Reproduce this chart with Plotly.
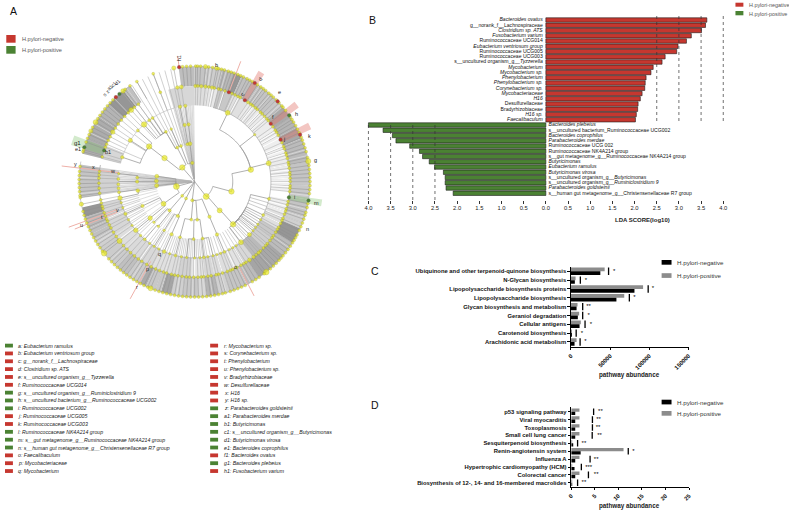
import math
import plotly.graph_objects as go

W, H = 789, 511
RED, GREEN = "#c6372f", "#4b8233"
YEL = "#eaea1e"
FONT = "Liberation Sans"

# ---------- Panel B data ----------
lda_neg_names = ["<i>Bacteroides ovatus</i>", "g__norank_f__Lachnospiraceae", "<i>Clostridium sp. ATS</i>",
                 "<i>Fusobacterium varium</i>", "Ruminococcaceae UCG014", "<i>Eubacterium ventriosum group</i>",
                 "Ruminococcaceae UCG005", "Ruminococcaceae UCG003", "s__uncultured organism_g__<i>Tyzzerella</i>",
                 "<i>Mycobacterium</i>", "<i>Mycobacterium sp.</i>", "<i>Phenylobacterium</i>",
                 "<i>Phenylobacterium sp.</i>", "<i>Corynebacterium sp.</i>", "<i>Mycobacteriaceae</i>", "<i>H16</i>",
                 "Desulfurellaceae", "Bradyrhizobiaceae", "<i>H16 sp.</i>", "<i>Faecalibaculum</i>"]
lda_neg_vals = [3.63, 3.60, 3.51, 3.28, 3.17, 2.98, 2.95, 2.69, 2.62, 2.42, 2.37, 2.26, 2.24, 2.23, 2.17, 2.13,
                2.08, 2.07, 2.04, 2.02]
lda_pos_names = ["<i>Bacteroides plebeius</i>", "s__uncultured bacterium_Ruminococcaceae UCG002",
                 "<i>Bacteroides coprophilus</i>", "<i>Parabacteroides merdae</i>", "Ruminococcaceae UCG 002",
                 "Ruminococcaceae NK4A214 group", "s__gut metagenome_g__Ruminococcaceae NK4A214 group",
                 "<i>Butyricimonas</i>", "<i>Eubacterium ramulus</i>", "<i>Butyricimonas virosa</i>",
                 "s__uncultured organism_g__<i>Butyricimonas</i>", "s__uncultured organism_g__<i>Ruminiclostridium 9</i>",
                 "<i>Parabacteroides goldsteinii</i>", "s__human gut metagenome_g__Christensenellaceae R7 group"]
lda_pos_vals = [4.0, 3.67, 3.46, 3.38, 3.07, 2.85, 2.78, 2.63, 2.51, 2.31, 2.27, 2.27, 2.25, 2.09]
lda_ticks = [-4, -3.5, -3, -2.5, -2, -1.5, -1, -.5, 0, .5, 1, 1.5, 2, 2.5, 3, 3.5, 4]
lda_ticktext = ["4.0", "3.5", "3.0", "2.5", "2.0", "1.5", "1.0", "0.5", "0.0", "0.5", "1.0", "1.5", "2.0", "2.5",
                "3.0", "3.5", "4.0"]
lda_grid_right = [2.5, 3.0, 3.5, 4.0]
lda_grid_left = [-2.5, -3.0, -3.5, -4.0]

# ---------- Panel C data ----------
c_names = ["Ubiquinone and other terpenoid-quinone biosynthesis", "N-Glycan biosynthesis",
           "Lipopolysaccharide biosynthesis proteins", "Lipopolysaccharide biosynthesis",
           "Glycan biosynthesis and metabolism", "Geraniol degradation", "Cellular antigens",
           "Carotenoid biosynthesis", "Arachidonic acid metabolism"]
c_pos = [43000, 5900, 92000, 68000, 8400, 10500, 12600, 400, 7200]
c_neg = [37500, 5000, 81000, 58000, 7200, 8800, 11000, 300, 4600]
c_sig = [48000, 12000, 98500, 74500, 15000, 15000, 18000, 6700, 11700]
c_star_x = [55000, 19000, 104500, 81000, 22500, 22500, 25500, 14000, 18500]
c_star = ["*", "*", "*", "*", "**", "*", "*", "*", "*"]
c_ticks = [0, 50000, 100000, 150000]

# ---------- Panel D data ----------
d_names = ["p53 signaling pathway", "Viral myocarditis", "Toxoplasmosis", "Small cell lung cancer",
           "Sesquiterpenoid biosynthesis", "Renin-angiotensin system", "Influenza A",
           "Hypertrophic cardiomyopathy (HCM)", "Colorectal cancer",
           "Biosynthesis of 12-, 14- and 16-membered macrolides"]
d_pos = [1.75, 1.75, 1.75, 1.75, 0.1, 11.1, 1.75, 0.05, 1.75, 0.1]
d_neg = [0.85, 0.85, 0.85, 0.85, 0.3, 2.0, 0.85, 0.7, 0.85, 0.1]
d_sig = [4.75, 4.5, 4.5, 4.45, 1.35, 12.1, 4.0, 2.15, 3.65, 1.35]
d_star_x = [6.2, 5.8, 5.7, 6.0, 2.7, 13.2, 5.3, 3.7, 5.3, 2.7]
d_star = ["**", "**", "**", "**", "**", "*", "**", "***", "**", "**"]
d_ticks = [0, 5, 10, 15, 20, 25]

# ---------- Panel A legend ----------
leg_left = ["a: Eubacterium ramulus", "b: Eubacterium ventriosum group", "c: g__norank_f__Lachnospiraceae",
            "d: Clostridium sp. ATS", "e: s__uncultured organism_g__Tyzzerella", "f: Ruminococcaceae UCG014",
            "g: s__uncultured organism_g__Ruminiclostridium 9", "h: s__uncultured bacterium_g__Ruminococcaceae UCG002",
            "i: Ruminococcaceae UCG002", "j: Ruminococcaceae UCG005", "k: Ruminococcaceae UCG003",
            "l: Ruminococcaceae NK4A214 group", "m: s__gut metagenome_g__Ruminococcaceae NK4A214 group",
            "n: s__human gut metagenome_g__Christensenellaceae R7 group", "o: Faecalibaculum", "p: Mycobacteriaceae",
            "q: Mycobacterium"]
leg_left_col = "GRRRRRGGGRRGGGRRR"
leg_right = ["r: Mycobacterium sp.", "s: Corynebacterium sp.", "t: Phenylobacterium", "u: Phenylobacterium sp.",
             "v: Bradyrhizobiaceae", "w: Desulfurellaceae", "x: H16", "y: H16 sp.", "z: Parabacteroides goldsteinii",
             "a1: Parabacteroides merdae", "b1: Butyricimonas", "c1: s__uncultured organism_g__Butyricimonas",
             "d1: Butyricimonas virosa", "e1: Bacteroides coprophilus", "f1: Bacteroides ovatus",
             "g1: Bacteroides plebeius", "h1: Fusobacterium varium"]
leg_right_col = "RRRRRRRRGGGGGGRGR"

# ---------- Panel A cladogram data (angles clockwise from north, degrees) ----------
R_RINGS = [19, 38.5, 58, 77, 96.5, 116.5]

outer_band_start = [0, 6, 14, 20, 24, 34, 45, 50, 56, 62, 68, 80, 90, 99, 108, 114, 122, 130, 138, 146, 153, 162, 168,
                    174, 178, 186, 192, 197, 205, 208, 216, 222, 235, 240, 246, 252, 262, 284, 292, 304, 312, 322, 352]
outer_band_end = [6, 14, 20, 24, 34, 45, 50, 56, 62, 68, 80, 90, 99, 108, 114, 122, 130, 138, 146, 153, 162, 168, 174,
                  178, 186, 192, 197, 205, 208, 216, 222, 235, 240, 246, 252, 257, 278.5, 292, 304, 312, 322, 326, 360]
outer_band_gray = [196, 205, 184, 152, 192, 196, 200, 170, 181, 168, 187, 196, 200, 196, 208, 150, 187, 168, 165, 187,
                   197, 208, 181, 216, 200, 208, 165, 200, 170, 204, 192, 204, 208, 192, 187, 150, 196, 176, 172, 180,
                   150, 192, 190]

mid_band_start = [0, 8, 14, 24, 34, 44, 56, 66, 76, 86, 101, 110, 120, 126, 134, 142, 150, 158, 168, 174, 182, 190,
                  198, 206, 216, 226, 236, 248, 262, 284, 344]
mid_band_end = [8, 14, 24, 34, 44, 56, 66, 76, 86, 96, 110, 120, 126, 134, 142, 150, 158, 168, 174, 182, 190, 198, 206,
                216, 226, 236, 248, 257, 278.5, 292, 360]
mid_band_gray = [222, 232, 200, 224, 234, 236, 238, 240, 236, 240, 238, 224, 200, 206, 186, 216, 226, 222, 215, 230,
                 210, 222, 224, 216, 218, 222, 215, 215, 210, 215, 215]

outer_white = [8, 16, 36, 41, 48, 74, 77, 92, 97, 104, 111, 125, 151, 164, 171, 181, 189, 200, 213, 227, 238, 243, 264,
               272, 295, 300, 316, 324]
mid_white = [11, 18, 27.5, 38, 43, 47.5, 58, 60.5, 63, 68, 70.5, 73, 80, 83, 85.5, 88, 90.5, 93, 105, 108, 112, 116,
             149, 155, 163, 180, 215, 232.5, 247]

# fine fans of lines inside the tree
center_fan_left = [262.3, 263.2, 264.1, 265.3, 266, 267.1, 268.4, 269, 270.2, 271.3, 272, 273.1, 274.2, 275.4, 276.1,
                   277.2, 278.2]
center_fan_top = [344.2, 345.5, 346.4, 347.6, 348.9, 350, 351.2, 352.3, 353.4, 354.1, 355.2, 356.3, 357.1, 358.2, 359.3]
fan58_angles = [143, 145.5, 148, 151, 154, 158.5, 161, 164, 168, 170.5, 172, 174, 175.5, 177, 178.5, 180, 181.5, 183,
                184.5, 186, 187.5, 189, 190.5, 192, 193.5, 196, 197.5, 199.5, 201.5, 205, 207, 209.5, 211, 213.5, 215.5,
                217.5, 223, 226.5, 228.5, 232, 234, 236.5, 238, 240.5, 242, 244, 246.5, 248, 250.5, 252, 254, 256]
fan38_angles = [208, 211, 214, 217, 224, 227, 233, 238, 242, 248, 252, 256, 259]
sparse_angles = [321, 324, 327, 330, 333, 336, 339, 342, 345, 348, 284, 287, 293, 302, 308, 317]
sparse_in = [58, 58, 58, 38, 38, 38, 38, 38, 38, 38, 77, 77, 58, 58, 58, 58]
sparse_out = [116, 116, 116, 116, 116, 116, 116, 116, 116, 116, 96, 96, 77, 77, 77, 77]
lower_sparse_angles = [106, 109, 112, 118, 122, 126, 128.5, 131.5, 136, 137.5, 140]
lower_sparse_in = [58] * 11
lower_sparse_out = [77] * 11

# tree: child angle -> parent angle, one ring further in
ring1_child = [142, 187, 207, 221, 255, 319, 353]
ring2_child = [105, 139, 157, 176, 185, 206, 221, 234.5, 264, 271, 278, 308, 333, 339, 353]
ring2_parent = [142, 142, 187, 187, 187, 207, 221, 255, 255, 255, 255, 319, 319, 353, 353]
ring3_child = [78, 138, 157, 172, 181, 194.7, 203.6, 212, 219, 225, 230.6, 245, 261, 270, 274, 307.7, 330, 336, 350, 354]
ring3_parent = [105, 139, 157, 176, 176, 185, 206, 206, 221, 221, 234.5, 234.5, 264, 271, 271, 308, 333, 339, 353, 353]
ring4_child = [25.7, 52, 76, 103, 116, 120, 124, 127, 130, 134, 142.6, 157, 166, 173, 180, 186, 194.5, 203.5, 212, 220.8,
               230.4, 245, 257.6, 262, 270, 276, 302.7, 288.6, 312, 318.5, 323.6, 326.6, 349, 353]
ring4_parent = [78, 78, 78, 138, 138, 138, 138, 138, 138, 138, 138, 157, 172, 172, 181, 181, 194.7, 203.6, 212, 219,
                230.6, 245, 261, 261, 270, 274, 307.7, 307.7, 307.7, 330, 330, 330, 350, 354]

ring1_nodes = [142, 187, 207, 221, 255, 319, 353]
ring1_sizes = [6, 3.2, 3, 3, 6, 5.5, 3.4]
ring2_nodes = [105, 139, 157, 176, 185, 206, 221, 234.5, 264, 271, 278, 308, 333, 339, 353, 349]
ring2_sizes = [5.5, 5, 3.4, 3, 3, 3.4, 3.4, 5, 4.2, 4, 4, 5.5, 3, 3, 4, 3]
ring3_nodes = [78, 138, 157, 172, 181, 194.7, 203.6, 212, 219, 225, 230.6, 245, 261, 270, 274, 307.7, 330, 336, 350, 354]
ring3_sizes = [5.5, 5.5, 3.4, 3, 3, 3, 3.4, 2.6, 2.6, 2.6, 4.6, 3.4, 3.8, 3.4, 3, 5.5, 3, 2.6, 3.4, 3.4]
ring4_nodes = [25.7, 52, 76, 103, 116, 120, 124, 127, 130, 134, 142.6, 147, 150, 153, 157, 160, 163, 166, 170, 173, 176,
               180, 186, 190, 194.5, 199, 203.5, 208, 212, 216, 220.8, 225, 230.4, 235, 240, 245, 250, 254, 257.6, 262,
               265, 268, 272, 276, 288.6, 302.7, 312, 318.5, 323.6, 326.6, 349, 353]
ring4_sizes = [5, 2.4, 5, 3, 3, 2.4, 2.4, 2.4, 2.4, 4.2, 5, 2.4, 2.4, 2.4, 3, 2.4, 2.4, 2.4, 2.4, 3, 2.4, 2.4, 2.4, 2.4, 3,
               2.4, 3.8, 2.4, 2.4, 2.4, 3, 2.4, 4.6, 2.4, 2.4, 3.4, 2.4, 2.4, 4.6, 3, 3, 3, 3, 2.4, 3.4, 4.2, 3, 5.5,
               3, 3, 3.4, 3.4]
ring5_nodes = [0.5, 2, 4, 6.5, 8.5, 10.5, 12, 14.5, 16, 18.5, 23, 25, 27, 28.5, 34, 36, 37.5, 39.5, 41, 43.5, 45, 47, 49,
               50.5, 55, 57.5, 59, 61, 66, 68.5, 70, 72.5, 74, 76, 78.5, 80, 82, 84.5, 86, 88, 90, 92.5, 94, 96, 102,
               104, 106.5, 108, 110, 112.5, 114, 116, 118.5, 120, 122, 124.5, 126, 128, 130.5, 132, 134, 136.5, 138,
               140, 142, 145, 147.5, 149, 151, 154, 156.5, 158, 160, 163, 165.5, 167, 170, 172, 174.5, 176, 178, 180.5,
               183, 185, 187.5, 190, 192, 194, 197, 199, 201.5, 204, 207, 210, 213.5, 216, 219, 222, 225, 228, 231.7,
               235, 238, 241, 243, 245.5, 247, 249, 251, 253.5, 255, 257, 259, 263, 266, 269, 272, 274, 276, 285, 291,
               293, 295.5, 298, 301.2, 304, 307, 310, 313, 316, 318.5, 321, 324, 339, 349.6, 352]
big_ring5 = {0.5: 3.4, 4: 3.6, 6.5: 3.6, 10.5: 3.6, 34: 3.2, 138: 3.4, 142: 3.6, 145: 4, 154: 3.4, 231.7: 5.2, 301.2: 4.6,
             318.5: 5, 349.6: 3.6, 352: 4}
ring5_sizes = [big_ring5.get(a, 2.9) for a in ring5_nodes]
ring6_nodes = [0.5, 1.5, 3, 5.4, 7, 9, 11, 12, 13.5, 15, 17, 18.5, 20, 22, 23.5, 25, 27, 28.5, 30, 33, 35, 36.5, 38, 40,
               41.5, 43, 45, 47, 49, 50, 52, 56, 57.5, 59, 61, 63, 65, 67.5, 69, 71, 73, 75, 78, 79.8, 82, 84, 86, 88,
               90, 92, 94, 96, 101, 103, 105.5, 107, 109, 111, 113, 115, 117.5, 119, 120.5, 122, 124, 126, 128, 130,
               131.5, 133, 135, 137, 139, 141.6, 143, 146, 148, 150, 154, 156, 158, 160, 162, 164.5, 166, 168, 170, 172,
               174, 176, 178, 180, 182, 184, 186, 188, 190, 192, 194, 196, 198, 200, 202.4, 204, 206, 208, 210, 212,
               214, 216, 218, 220, 222, 224, 226, 228, 231.6, 233, 235, 237, 239, 241, 243, 245, 247, 249, 251, 253, 255,
               258.7, 262, 263, 265, 267, 269, 271, 273, 275, 277.5, 285, 286, 290, 292, 294, 296, 298, 301, 303, 305,
               307, 309, 311, 313, 315, 321.7, 323, 326, 330, 339, 349.6, 354, 356, 358]
big_ring6 = {5.4: 4.2, 11: 4.2, 79.8: 5.2, 141.6: 5.6, 231.6: 5.6, 202.4: 5, 296: 4.2, 301: 5, 321.7: 4.6, 349.6: 4.2,
             258.7: 4.2}
ring6_sizes = [big_ring6.get(a, 2.9) for a in ring6_nodes]

red_ring_angles = [21, 31.7, 52.8, 64]           # r = 96.5
red_outer_angles = [31.4, 46, 66, 317, 352.3]    # r = 116.5
green_ring_angles = [99.5, 289]
green_outer_angles = [55, 99.4, 287.3, 319.4]

pink_start = [30, 51.4, 62.6]
pink_end = [33, 54.6, 65.8]
thin_pink_angle = [21, 152.5, 208.8, 250.1, 248.4, 276.7, 352.3]
thin_pink_in = [96.5, 96.5, 92, 84, 84, 77, 116.5]
thin_pink_out = [130, 130, 135, 135, 130, 135, 128]
green_wedge_start = [286.5, 98]
green_wedge_end = [291, 101]

clade_labels = ["h1", "b", "c", "d", "e", "h", "f", "j", "k", "g", "i", "m", "n", "o", "q", "p", "r", "v", "t", "u",
                "w", "x", "y", "b1"]
clade_angle = [352.5, 10.5, 29, 33, 44, 56.5, 50.5, 64.5, 68.5, 80, 98.5, 100, 112.5, 154.5, 206, 208.5, 209, 249.8, 249,
               249, 277.5, 278, 278.5, 289]
clade_r = [124, 119, 100, 122, 124, 123, 102, 100, 125, 124, 102, 125, 123, 95, 80, 100, 120, 83, 100, 122, 84, 103,
           122, 92]
clade_tilt = [-90, 0, -50, -50, 0, 0, 0, 0, 0, 0, 0, 0, 0, 0, 0, 0, 0, 0, 0, 0, 0, 0, 0, 0]
rot_labels = ["s", "z", "a1", "c1", "d1", "g1", "e1"]
rot_angle = [314, 316, 318, 320, 322, 288, 285.5]
rot_r = [126, 126, 127, 127, 127, 124, 122]
rot_tilt = [-45, -45, -45, -45, -45, 0, 0]
rot_size = [5, 5, 5, 5, 5, 6, 5.5]

# ---------- layout helpers ----------
CX, CY, HALF = 192.3, 181.6, 140.0


def px(x):
    return x / W


def py(y):
    return 1 - y / H


def rgb(v):
    return f"rgb({v},{v},{v})"


def arc(r, a, b):
    n = max(2, int(abs(b - a) / 1.5) + 2)
    return [r] * n, [a + (b - a) * i / (n - 1) for i in range(n)]


def polar_xy(angle, r):
    t = math.radians(angle)
    return CX + r * math.sin(t), CY - r * math.cos(t)


fig = go.Figure()

# ---- cladogram ----
POLAR = dict(subplot="polar")


def sectors(start, end, inner, outer, gray):
    theta = [(s + e) / 2 for s, e in zip(start, end)]
    width = [e - s for s, e in zip(start, end)]
    fig.add_trace(go.Barpolar(theta=theta, width=width, base=inner, r=[o - i for o, i in zip(outer, inner)],
                              marker=dict(color=gray, line=dict(width=0)), showlegend=False, hoverinfo="skip", **POLAR))


def spokes(angles, inner, outer, color, w):
    th, rr = [], []
    for a, i, o in zip(angles, inner, outer):
        th += [a, a, None]
        rr += [i, o, None]
    fig.add_trace(go.Scatterpolar(theta=th, r=rr, mode="lines", line=dict(color=color, width=w),
                                  showlegend=False, hoverinfo="skip", **POLAR))


def spokes_to(angles, inner, outer, color, w):
    spokes(angles, [inner] * len(angles), [outer] * len(angles), color, w)


sectors(outer_band_start, outer_band_end, [96.5] * len(outer_band_start), [116.5] * len(outer_band_start),
        [rgb(v) for v in outer_band_gray])
sectors(mid_band_start, mid_band_end, [77] * len(mid_band_start), [96.5] * len(mid_band_start),
        [rgb(v) for v in mid_band_gray])
spokes_to(center_fan_left, 3, 77, "#b4b4b4", 0.55)
spokes_to(center_fan_top, 3, 77, "#b8b8b8", 0.55)
spokes_to(fan58_angles, 58, 77, "#b0b0b0", 0.55)
spokes_to(fan38_angles, 38.5, 58, "#bcbcbc", 0.5)
spokes(sparse_angles, sparse_in, sparse_out, "#a8a8a8", 0.55)
spokes(lower_sparse_angles, lower_sparse_in, lower_sparse_out, "#a8a8a8", 0.6)
spokes_to(ring5_nodes, 77, 96.5, "#a2a2a2", 0.5)
spokes_to(ring6_nodes, 96.5, 116.5, "#8f8f8f", 0.5)
spokes_to(mid_white, 77, 96.5, "white", 0.9)
spokes_to(outer_white, 96.5, 116.5, "#e8e8e8", 0.6)

# pink / green highlights
sectors(pink_start, pink_end, [96.5] * 3, [129] * 3, ["rgba(226,120,110,0.42)"] * 3)
sectors(green_wedge_start, green_wedge_end, [96.5] * 2, [130] * 2, ["rgba(120,190,100,0.33)"] * 2)
spokes(thin_pink_angle, thin_pink_in, thin_pink_out, "#eeb0a8", 1.0)

# tree branches
th, rr = [], []
for c in ring1_child:
    th += [c, c, None]
    rr += [0, R_RINGS[0], None]
for child, parent, rin, rout in ((ring2_child, ring2_parent, R_RINGS[0], R_RINGS[1]),
                                 (ring3_child, ring3_parent, R_RINGS[1], R_RINGS[2]),
                                 (ring4_child, ring4_parent, R_RINGS[2], R_RINGS[3])):
    for c, p in zip(child, parent):
        ra, ta = arc(rin, p, c)
        th += ta + [c, None]
        rr += ra + [rout, None]
fig.add_trace(go.Scatterpolar(theta=th, r=rr, mode="lines", line=dict(color="#9c9c9c", width=0.8),
                              showlegend=False, hoverinfo="skip", **POLAR))
# ring arcs
for r_, a, b, col in ((77, 14, 262, "#a0a0a0"), (77, 284, 345, "#b8b8b8"), (96.5, 0, 280, "#8e8e8e"),
                      (96.5, 284, 325, "#9a9a9a"), (116.5, 0, 280, "#aaaaaa"), (116.5, 284, 326, "#aaaaaa")):
    ra, ta = arc(r_, a, b)
    fig.add_trace(go.Scatterpolar(theta=ta, r=ra, mode="lines", line=dict(color=col, width=0.6),
                                  showlegend=False, hoverinfo="skip", **POLAR))

# nodes
for ring, angs, sizes in ((0, ring1_nodes, ring1_sizes), (1, ring2_nodes, ring2_sizes), (2, ring3_nodes, ring3_sizes),
                          (3, ring4_nodes, ring4_sizes), (4, ring5_nodes, ring5_sizes), (5, ring6_nodes, ring6_sizes)):
    fig.add_trace(go.Scatterpolar(theta=angs, r=[R_RINGS[ring]] * len(angs), mode="markers",
                                  marker=dict(color=YEL, size=sizes, line=dict(color="#8f8f1c", width=0.35)),
                                  showlegend=False, hoverinfo="skip", **POLAR))
for angs, r_, col in ((red_ring_angles, 96.5, RED), (red_outer_angles, 116.5, RED),
                      (green_ring_angles, 96.5, GREEN), (green_outer_angles, 116.5, GREEN)):
    fig.add_trace(go.Scatterpolar(theta=angs, r=[r_] * len(angs), mode="markers",
                                  marker=dict(color=col, size=3.6, line=dict(color="#666", width=0.3)),
                                  showlegend=False, hoverinfo="skip", **POLAR))

annotations = []
shapes = []


def note(x, y, text, size=6, color="#222", anchor="left", angle=0):
    annotations.append(dict(x=px(x), y=py(y), xref="paper", yref="paper", text=text, showarrow=False, xanchor=anchor,
                            yanchor="middle", textangle=angle, align="left",
                            font=dict(family=FONT, size=size, color=color)))


def swatch(x0, y0, x1, y1, color):
    shapes.append(dict(type="rect", xref="paper", yref="paper", x0=px(x0), x1=px(x1), y0=py(y0), y1=py(y1),
                       fillcolor=color, line=dict(width=0), layer="above"))


for t, a, r_, tilt in zip(clade_labels, clade_angle, clade_r, clade_tilt):
    x_, y_ = polar_xy(a, r_)
    note(x_, y_, t, size=5.5, anchor="center", angle=tilt)
for t, a, r_, tilt, s in zip(rot_labels, rot_angle, rot_r, rot_tilt, rot_size):
    x_, y_ = polar_xy(a, r_)
    note(x_, y_, t, size=s, anchor="center", angle=tilt)

# panel letters and legends
note(4, 11, "A", size=10.5, color="#111")
note(366, 20.5, "B", size=10.5, color="#111")
note(368, 271, "C", size=10.5, color="#111")
note(368, 405, "D", size=10.5, color="#111")

swatch(2.3, 35, 11.7, 42.7, RED)
swatch(2.3, 46, 11.7, 53.7, GREEN)
note(16, 39, "H.pylori-negative", size=5.6, color="#555")
note(16, 49.5, "H.pylori-positive", size=5.6, color="#555")
swatch(738, 2.7, 746, 6.7, RED)
swatch(738, 11, 746, 15.3, GREEN)
note(749.5, 5, "H.pylori-negative", size=5.4, color="#555")
note(749.5, 13.5, "H.pylori-positive", size=5.4, color="#555")

for i, (t, c) in enumerate(zip(leg_left, leg_left_col)):
    yy = 345.6 + 7.84 * i
    swatch(1, yy - 1.9, 9, yy + 1.9, RED if c == "R" else GREEN)
    note(12.5, yy, f"<i>{t}</i>", size=5.2, color="#222")
for i, (t, c) in enumerate(zip(leg_right, leg_right_col)):
    yy = 345.6 + 7.84 * i
    swatch(208, yy - 1.9, 216, yy + 1.9, RED if c == "R" else GREEN)
    note(219.8, yy, f"<i>{t}</i>", size=5.2, color="#222")

# ---- Panel B ----
rows_names = lda_neg_names + lda_pos_names
rows = list(range(len(rows_names)))
vals = lda_neg_vals + [-v for v in lda_pos_vals]
colors = [RED] * len(lda_neg_vals) + [GREEN] * len(lda_pos_vals)
ROW0, ROWH = 20.0, 5.25
ytop, ybot = 16.0, 200.0
b_range = [(ybot - ROW0) / ROWH, (ytop - ROW0) / ROWH]

for g in lda_grid_right:
    fig.add_trace(go.Scatter(x=[g, g], y=[b_range[1], 19.4], mode="lines", xaxis="x", yaxis="y",
                             line=dict(color="#333", width=0.7, dash="dot"), showlegend=False, hoverinfo="skip"))
for g in lda_grid_left:
    fig.add_trace(go.Scatter(x=[g, g], y=[20, b_range[0]], mode="lines", xaxis="x", yaxis="y",
                             line=dict(color="#333", width=0.7, dash="dot"), showlegend=False, hoverinfo="skip"))
fig.add_trace(go.Bar(x=vals, y=rows, orientation="h", xaxis="x", yaxis="y", showlegend=False, hoverinfo="skip",
                     marker=dict(color=colors, line=dict(color="#1c1c1c", width=0.6))))
n_neg = len(lda_neg_vals)
fig.add_trace(go.Scatter(x=[-0.07] * n_neg, y=rows[:n_neg], text=lda_neg_names, mode="text", textposition="middle left",
                         textfont=dict(family=FONT, size=5.1, color="#111"), xaxis="x", yaxis="y", showlegend=False,
                         hoverinfo="skip"))
fig.add_trace(go.Scatter(x=[0.06] * len(lda_pos_names), y=rows[n_neg:], text=lda_pos_names, mode="text",
                         textposition="middle right", textfont=dict(family=FONT, size=5.1, color="#111"),
                         xaxis="x", yaxis="y", showlegend=False, hoverinfo="skip"))
note(644, 219.7, "<b>LDA SCORE(log10)</b>", size=6, anchor="center", color="#222")


# ---- Panels C & D ----
def grouped(names, pos, neg, sig, star_x, star, xax, yax):
    ys = list(range(len(names)))
    fig.add_trace(go.Bar(x=pos, y=ys, orientation="h", marker=dict(color="#8c8c8c", line=dict(width=0)),
                         xaxis=xax, yaxis=yax, showlegend=False, hoverinfo="skip"))
    fig.add_trace(go.Bar(x=neg, y=ys, orientation="h", marker=dict(color="black", line=dict(width=0)),
                         xaxis=xax, yaxis=yax, showlegend=False, hoverinfo="skip"))
    sx, sy = [], []
    for s, y_ in zip(sig, ys):
        sx += [s, s, None]
        sy += [y_ - 0.42, y_ + 0.42, None]
    fig.add_trace(go.Scatter(x=sx, y=sy, mode="lines", line=dict(color="black", width=1.3), xaxis=xax, yaxis=yax,
                             showlegend=False, hoverinfo="skip"))
    fig.add_trace(go.Scatter(x=star_x, y=ys, text=star, mode="text", textposition="middle center",
                             textfont=dict(family=FONT, size=6, color="black"), xaxis=xax, yaxis=yax,
                             showlegend=False, hoverinfo="skip"))


grouped(c_names, c_pos, c_neg, c_sig, c_star_x, c_star, "x2", "y2")
grouped(d_names, d_pos, d_neg, d_sig, d_star_x, d_star, "x3", "y3")

for y0, t1, t2 in ((260, "H.pylori-negative", "H.pylori-positive"), (399.7, "H.pylori-negative", "H.pylori-positive")):
    off = 13.2 if y0 == 260 else 11.3
    swatch(663.5, y0, 673.5, y0 + 4.7, "black")
    swatch(663.5, y0 + off, 673.5, y0 + off + 4.7, "#8c8c8c")
    note(677, y0 + 2.3, t1, size=6.2, color="#333")
    note(677, y0 + off + 2.3, t2, size=6.2, color="#333")
note(631, 374.7, "<b>pathway abundance</b>", size=6.3, anchor="center")
note(631.5, 505.5, "<b>pathway abundance</b>", size=6.3, anchor="center")

tf = dict(family=FONT, size=5.85, color="#111")
axis_common = dict(showgrid=False, zeroline=False, showline=True, linecolor="black", linewidth=1, ticks="outside",
                   ticklen=2.5, tickwidth=1, tickcolor="black", tickfont=tf)

fig.update_layout(
    width=W, height=H, autosize=False, margin=dict(l=0, r=0, t=0, b=0), paper_bgcolor="white", plot_bgcolor="white",
    showlegend=False, barmode="group", bargap=0.16, bargroupgap=0,
    polar=dict(domain=dict(x=[px(CX - HALF), px(CX + HALF)], y=[py(CY + HALF), py(CY - HALF)]),
               bgcolor="rgba(0,0,0,0)", barmode="overlay", bargap=0,
               radialaxis=dict(visible=False, range=[0, HALF]),
               angularaxis=dict(visible=False, rotation=90, direction="clockwise")),
    xaxis=dict(domain=[px(546.7 - 4.15 * 44.75), px(546.7 + 4.15 * 44.75)], range=[-4.15, 4.15], tickvals=lda_ticks,
               ticktext=lda_ticktext, showgrid=False, zeroline=False, showline=False, ticks="outside", ticklen=2.5,
               tickwidth=0.8, tickcolor="#333", tickfont=dict(family=FONT, size=5.8, color="#222"), anchor="y"),
    yaxis=dict(domain=[py(ybot), py(ytop)], range=b_range, visible=False, anchor="x"),
    xaxis2=dict(domain=[px(572), px(690.7)], range=[0, 150000], tickvals=c_ticks,
                ticktext=[f"<b>{v}</b>" for v in c_ticks], tickangle=-45, anchor="y2", **axis_common),
    yaxis2=dict(domain=[py(346.7), py(267)], range=[(346.7 - 271.3) / 8.83, (267 - 271.3) / 8.83],
                tickvals=list(range(len(c_names))), ticktext=[f"<b>{n}</b>" for n in c_names], anchor="x2",
                **axis_common),
    xaxis3=dict(domain=[px(572.3), px(691.2)], range=[0, 25], tickvals=d_ticks,
                ticktext=[f"<b>{v}</b>" for v in d_ticks], tickangle=-45, anchor="y3", **axis_common),
    yaxis3=dict(domain=[py(486.7), py(407)], range=[(486.7 - 411.7) / 7.9, (407 - 411.7) / 7.9],
                tickvals=list(range(len(d_names))), ticktext=[f"<b>{n}</b>" for n in d_names], anchor="x3",
                **axis_common),
    annotations=annotations, shapes=shapes,
)

fig.write_html("out.html", config=dict(displayModeBar=False),
               post_script="document.body.style.margin='0';document.documentElement.style.overflow='hidden';")
